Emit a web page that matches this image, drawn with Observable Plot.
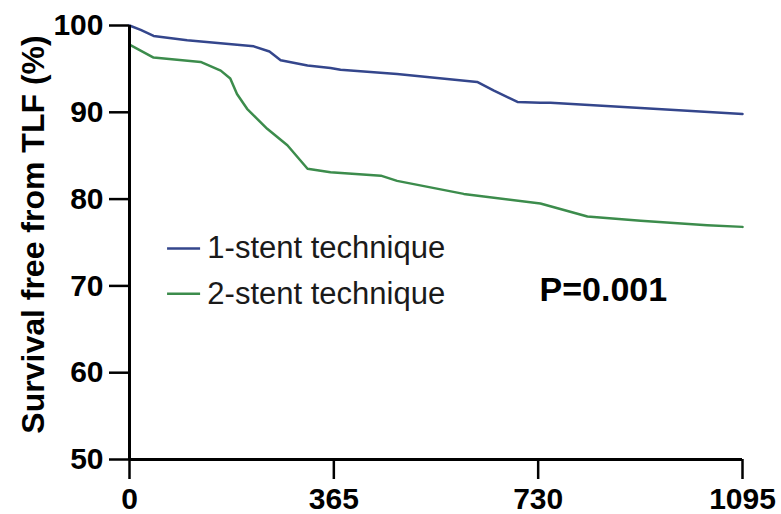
<!DOCTYPE html>
<html>
<head>
<meta charset="utf-8">
<script src="https://cdn.jsdelivr.net/npm/d3@7"></script>
<script src="https://cdn.jsdelivr.net/npm/@observablehq/plot@0.6"></script>
<style>
  body { margin: 0; background: #fff; }
  #chart svg { display: block; }
</style>
</head>
<body>
<div id="chart"></div>
<script>
// ---- data ----
const seriesNames = ["1-stent technique", "2-stent technique"];
const days1 = [0, 20, 43, 103, 222, 250, 270, 318, 359, 377, 478, 621, 651, 693, 734, 752, 913, 1095];
const surv1 = [100, 99.5, 98.8, 98.3, 97.6, 97.0, 96.0, 95.4, 95.1, 94.9, 94.4, 93.5, 92.5, 91.2, 91.1, 91.1, 90.5, 89.8];
const days2 = [0, 43, 127, 163, 180, 192, 210, 246, 282, 318, 359, 449, 478, 597, 734, 818, 913, 1032, 1095];
const surv2 = [97.8, 96.3, 95.8, 94.8, 93.9, 92.1, 90.4, 88.1, 86.2, 83.5, 83.1, 82.7, 82.1, 80.6, 79.5, 78.0, 77.5, 77.0, 76.8];
const xTicks = [0, 365, 730, 1095];
const yTicks = [50, 60, 70, 80, 90, 100];
const yLabel = "Survival free from TLF (%)";
const pLabel = "P=0.001";

// ---- styling / layout ----
const colors = ["#34468c", "#3c8c4c"];
const font = "Arial, 'Liberation Sans', Helvetica, sans-serif";
const legendLayout = { x1: 68, x2: 127, xText: 139, y: [74.3, 69.1] };

const rows = [
  ...days1.map((d, i) => ({ series: seriesNames[0], day: d, surv: surv1[i] })),
  ...days2.map((d, i) => ({ series: seriesNames[1], day: d, surv: surv2[i] }))
];

const legendMarks = seriesNames.flatMap((name, i) => [
  Plot.ruleY([legendLayout.y[i]], { x1: legendLayout.x1, x2: legendLayout.x2, stroke: colors[i], strokeWidth: 2.5 }),
  Plot.text([name], { x: legendLayout.xText, y: legendLayout.y[i], textAnchor: "start", fontSize: 31, fontWeight: "normal", fill: "#1a1a1a" })
]);

const chart = Plot.plot({
  width: 781,
  height: 514,
  marginLeft: 129,
  marginRight: 39,
  marginTop: 25,
  marginBottom: 55,
  style: { fontFamily: font, background: "#fff", color: "#000" },
  x: { domain: [0, 1095] },
  y: { domain: [50, 100] },
  color: { domain: seriesNames, range: colors },
  marks: [
    Plot.axisY({ ticks: yTicks, tickSize: 20, tickPadding: 6, fontSize: 30, fontWeight: "bold", strokeWidth: 2.5, label: null, tickFormat: d => String(d) }),
    Plot.axisX({ ticks: xTicks, tickSize: 20, tickPadding: 8, fontSize: 30, fontWeight: "bold", strokeWidth: 2.5, label: null, tickFormat: d => String(d) }),
    Plot.line(rows, { x: "day", y: "surv", stroke: "series", strokeWidth: 2.5 }),
    Plot.ruleX([0], { strokeWidth: 3 }),
    Plot.ruleY([50], { strokeWidth: 3 }),
    ...legendMarks,
    Plot.text([yLabel], { frameAnchor: "left", textAnchor: "middle", rotate: -90, dx: -96, dy: -8, fontSize: 32, fontWeight: "bold" }),
    Plot.text([pLabel], { frameAnchor: "top-left", dx: 410, dy: 251, textAnchor: "start", fontSize: 34, fontWeight: "bold" })
  ]
});
document.getElementById("chart").append(chart);
</script>
</body>
</html>
